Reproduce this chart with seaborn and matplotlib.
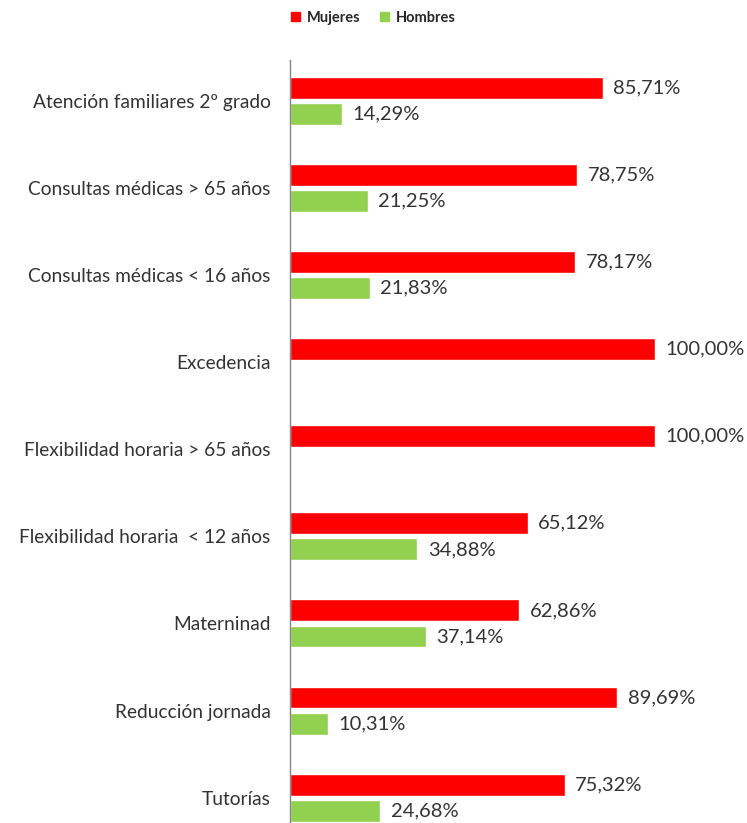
import pandas as pd
import matplotlib
matplotlib.use("Agg")
import matplotlib.pyplot as plt
import seaborn as sns
from matplotlib.patches import Patch

# datos
categorias = [
    "Atención familiares 2º grado",
    "Consultas médicas > 65 años",
    "Consultas médicas < 16 años",
    "Excedencia",
    "Flexibilidad horaria > 65 años",
    "Flexibilidad horaria  < 12 años",
    "Materninad",
    "Reducción jornada",
    "Tutorías",
]
mujeres = [85.71, 78.75, 78.17, 100.00, 100.00, 65.12, 62.86, 89.69, 75.32]
hombres = [14.29, 21.25, 21.83, 0.00, 0.00, 34.88, 37.14, 10.31, 24.68]
series = ["Mujeres", "Hombres"]
colores = ["#FF0000", "#92D050"]

df = pd.DataFrame({
    "Categoria": categorias * 2,
    "Valor": mujeres + hombres,
    "Sexo": ["Mujeres"] * len(categorias) + ["Hombres"] * len(categorias),
})

sns.set_style("white")
plt.rcParams["font.family"] = ["Lato", "DejaVu Sans"]

fig = plt.figure(figsize=(7.47, 8.23), dpi=100)
ax = fig.add_axes([290 / 747, 0, 457 / 747, (823 - 60) / 823])

sns.barplot(data=df, y="Categoria", x="Valor", hue="Sexo", order=categorias,
            hue_order=series, palette=colores, orient="h", width=0.6, gap=0.16,
            saturation=1, legend=False, ax=ax)

def fmt(v):
    return f"{v:.2f}%".replace(".", ",")

for cont, vals in zip(ax.containers, [mujeres, hombres]):
    labs = [fmt(v) if v > 0 else "" for v in vals]
    ax.bar_label(cont, labels=labs, padding=7.5, fontsize=14.5, color="#333333")

ax.set_xlim(0, 125.2)
ax.set_ylim(8.29, -0.466)
ax.set_xlabel("")
ax.set_ylabel("")
ax.set_xticks([])
ax.tick_params(axis="y", length=0, pad=14, labelsize=13.8, labelcolor="#333333")
for s in ["top", "right", "bottom"]:
    ax.spines[s].set_visible(False)
ax.spines["left"].set_color("#868686")
ax.spines["left"].set_linewidth(1)

handles = [Patch(color=c, label=s) for c, s in zip(colores, series)]
fig.legend(handles=handles, loc="center", bbox_to_anchor=(0.5, 1 - 18 / 823), ncol=2,
           frameon=False, handlelength=0.6, handleheight=0.6, handletextpad=0.5,
           columnspacing=1.3, prop={"weight": "bold", "size": 10.5})

fig.savefig("out.png", dpi=100)
